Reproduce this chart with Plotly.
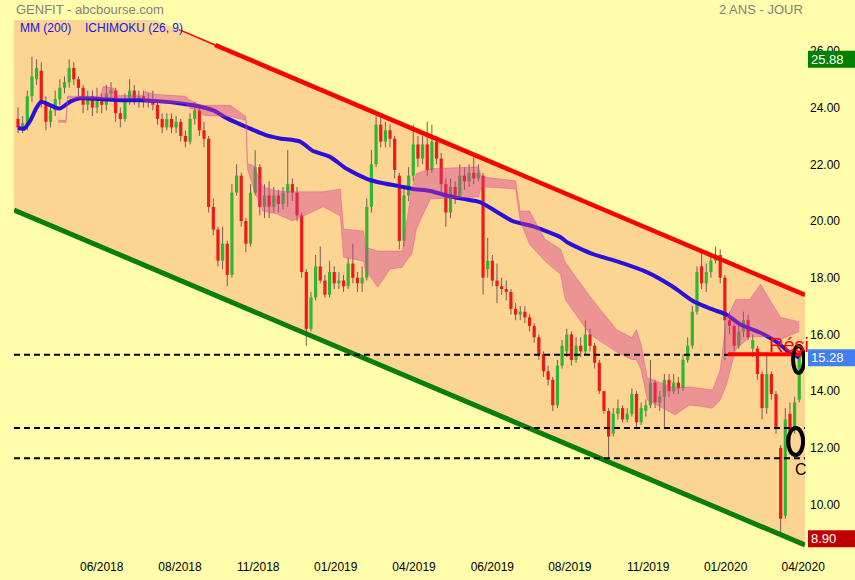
import plotly.graph_objects as go

# ---------------- data (trading-day index, price) ----------------
candle_idx = list(range(0, 507, 3))  # one candle every 3 trading days
opens = [23.6,23.3,23.4,24.4,25.0,25.3,24.2,23.5,23.9,24.3,24.7,24.9,25.4,25.0,24.7,24.1,24.4,24.0,24.3,24.1,
         24.5,24.6,23.8,23.6,24.3,24.6,24.3,24.4,24.2,24.3,24.1,23.6,23.3,23.6,23.3,23.5,23.0,22.8,23.6,23.9,
         23.2,22.9,20.5,19.7,18.6,19.2,18.1,21.0,21.6,20.0,19.2,21.0,21.9,20.5,20.9,20.5,20.9,20.6,21.0,21.3,
         21.0,20.2,18.2,16.2,17.3,18.4,17.9,17.4,18.2,17.8,17.9,17.7,18.5,18.0,17.8,18.0,20.5,22.0,23.4,22.8,
         23.2,22.9,21.6,19.3,20.9,21.6,22.7,22.2,22.7,21.8,22.8,22.2,21.3,20.3,21.2,20.9,21.6,21.4,21.7,21.5,
         21.6,18.3,18.6,17.9,17.7,17.6,17.5,16.9,16.7,16.8,16.6,16.3,15.9,15.3,14.7,14.4,13.5,14.9,15.4,16.0,
         15.1,15.6,15.4,16.0,15.6,15.0,14.0,13.3,12.5,13.2,13.4,13.0,13.2,13.9,12.9,13.3,13.5,14.3,13.6,13.8,
         14.4,14.0,14.3,14.1,15.1,15.6,16.8,18.4,17.8,18.2,18.6,18.8,18.0,16.5,16.3,15.6,16.1,16.5,15.5,15.5,
         14.6,13.4,14.6,13.9,12.0,9.6,13.2,12.7,13.7]
highs = [24.0,23.7,24.6,25.8,25.7,25.6,24.4,24.1,24.6,25.0,25.1,25.7,25.6,25.1,24.8,24.6,24.6,24.7,24.5,24.8,
         24.9,24.7,24.0,24.5,25.0,24.8,24.6,24.6,24.5,24.6,24.2,23.8,23.8,23.8,23.7,23.6,23.2,23.8,24.2,24.1,
         23.5,23.0,20.8,19.8,19.8,19.3,21.3,22.0,21.7,20.1,21.3,22.5,22.0,21.3,21.4,21.2,21.1,21.2,22.5,21.5,
         21.2,20.3,18.3,17.5,18.8,19.1,18.1,18.6,18.4,18.2,18.1,18.7,19.2,18.2,18.4,20.8,22.5,23.7,23.8,23.5,
         23.4,23.0,21.7,21.2,21.9,23.4,23.0,23.0,23.5,23.4,23.0,22.4,21.5,21.5,21.4,22.0,21.9,22.0,22.3,22.0,
         21.7,19.4,18.8,18.5,18.0,17.9,17.6,17.1,17.0,17.0,16.7,16.4,16.0,15.4,14.9,14.5,15.1,15.8,16.2,16.1,
         15.9,15.9,16.5,16.2,15.7,15.1,14.0,13.4,13.4,13.7,13.5,13.4,14.1,14.0,13.6,13.7,15.1,14.4,14.0,14.6,
         14.6,14.6,14.5,15.3,15.9,17.0,18.4,19.0,18.5,18.8,19.1,19.0,18.1,16.8,16.4,16.4,16.8,16.7,16.0,15.6,
         14.7,15.3,14.7,14.0,12.1,13.4,13.6,13.8,15.4]
lows = [23.1,23.1,23.2,24.2,24.8,24.0,23.2,23.3,23.7,24.1,24.5,24.7,24.8,24.4,23.8,23.9,23.7,23.8,23.8,23.9,
        24.2,23.5,23.3,23.5,24.1,24.1,24.0,24.0,24.0,23.9,23.4,23.1,23.2,23.1,23.1,22.8,22.6,22.7,23.4,23.0,
        22.6,20.3,19.5,18.4,18.3,17.7,18.0,20.9,19.8,18.9,19.1,20.9,20.2,20.1,20.1,20.3,20.3,20.4,20.5,20.7,
        20.0,18.0,15.6,16.1,17.2,17.8,17.3,17.3,17.6,17.6,17.5,17.6,17.8,17.5,17.5,17.9,20.3,21.9,22.6,22.6,
        22.6,21.5,19.0,19.1,20.7,21.4,21.9,22.0,21.6,21.7,22.0,21.0,19.8,20.1,20.6,20.8,21.1,21.2,21.3,21.4,
        17.4,18.0,17.7,17.1,17.4,17.2,16.7,16.5,16.5,16.4,16.1,15.7,15.1,14.5,14.2,13.3,13.4,14.8,15.2,14.9,
        15.0,15.2,15.3,15.4,14.8,13.9,13.2,11.65,12.4,13.0,12.9,12.9,13.1,12.7,12.8,13.1,13.4,13.4,13.3,12.7,
        13.8,13.9,13.9,14.0,15.0,15.5,16.7,17.6,17.5,18.0,18.5,17.8,15.1,16.0,15.4,15.5,15.9,15.8,15.2,14.4,
        13.0,13.2,13.7,12.5,8.9,9.5,11.8,12.5,13.6]
closes = [23.3,23.45,24.4,25.1,25.4,24.2,23.5,23.9,24.3,24.7,24.9,25.4,25.0,24.7,24.1,24.4,24.0,24.3,24.1,24.5,
          24.6,23.8,23.6,24.3,24.6,24.3,24.4,24.2,24.3,24.1,23.6,23.3,23.6,23.3,23.5,23.0,22.8,23.6,23.9,23.2,
          22.9,20.5,19.7,18.6,19.2,18.1,21.0,21.6,20.0,19.2,21.0,21.9,20.5,20.9,20.5,20.9,20.6,21.0,21.3,21.0,
          20.2,18.2,16.2,17.3,18.4,17.9,17.4,18.2,17.8,17.9,17.7,18.5,18.0,17.8,18.0,20.5,22.0,23.4,22.8,23.2,
          22.9,21.8,19.3,20.9,21.6,22.7,22.2,22.7,21.8,22.8,22.2,21.3,20.3,21.2,20.9,21.6,21.4,21.7,21.5,21.7,
          18.0,18.6,17.9,17.7,17.6,17.5,16.9,16.7,16.8,16.6,16.3,15.9,15.3,14.7,14.4,13.5,14.9,15.6,16.0,15.1,
          15.6,15.4,16.0,15.6,15.0,14.0,13.3,12.4,13.2,13.4,13.0,13.2,13.9,12.9,13.4,13.5,14.3,13.6,13.8,14.4,
          14.0,14.3,14.1,15.1,15.6,16.8,18.2,17.8,18.2,18.6,18.8,18.0,16.5,16.3,15.6,16.1,16.5,15.9,15.8,14.6,
          13.4,14.6,13.9,12.7,9.5,13.0,12.6,13.6,15.28]

# MM (200)
mm_idx = [0,4,8,12,15,21,27,34,40,53,66,79,92,104,117,126,135,148,161,169,182,190,201,212,225,234,245,
          255,266,277,287,298,309,319,332,337,350,354,371,388,406,422,436,448,457,466,479,490,498,504]
mm_val = [23.28,23.26,23.55,24.0,24.2,24.08,23.97,24.22,24.33,24.30,24.26,24.26,24.22,24.15,24.04,23.90,
          23.62,23.30,23.01,22.91,22.80,22.48,22.27,21.84,21.49,21.35,21.24,21.13,21.06,20.89,20.78,20.67,
          20.32,20.00,19.82,19.72,19.43,19.26,18.83,18.55,18.19,17.70,17.16,16.88,16.70,16.35,16.06,15.71,
          15.35,15.18]

# Ichimoku cloud (upper / lower span)
cloud_idx = [26,31,32,53,55,62,64,80,82,88,108,111,117,120,137,147,148,152,158,167,177,197,208,210,223,
             224,232,240,248,250,254,257,266,297,299,321,324,330,340,350,353,361,369,386,396,399,402,406,
             424,433,448,453,457,463,472,479,485,492,504]
cloud_top = [23.55,23.55,24.40,24.40,24.75,24.68,24.43,24.43,24.57,24.47,24.40,24.26,24.11,24.08,24.08,
             23.69,22.02,21.95,21.21,21.06,21.03,21.03,21.13,19.72,19.65,19.08,18.94,18.94,18.94,19.72,
             21.13,21.67,21.84,21.91,21.56,21.42,20.35,20.35,19.36,19.01,18.55,17.94,17.34,16.17,15.89,
             16.17,15.64,14.47,14.11,14.15,14.04,14.75,16.52,17.23,17.23,17.77,17.23,16.60,16.45]
cloud_bot = [23.48,23.48,24.33,24.33,24.33,24.33,24.33,24.33,24.22,24.18,24.15,23.97,23.90,23.72,23.69,
             23.55,21.84,21.13,20.35,20.25,20.00,20.50,20.18,18.72,18.58,18.30,17.66,18.30,18.37,18.55,
             18.83,19.72,20.78,20.85,21.21,21.13,20.00,19.18,18.58,18.12,17.23,16.63,16.00,15.39,15.11,
             15.11,14.75,13.69,13.16,13.51,13.40,13.69,14.22,15.46,15.92,15.92,15.92,15.82,16.10]

# trend channel (two anchor points each)
x_left, x_right = -2.58, 507.7
red_trend_x = [127.1, x_right]
red_trend_y = [26.21, 17.39]
red_thin_x = [104.0, 127.1]
red_thin_y = [26.75, 26.21]
red_ext_y = [29.21, 17.39]           # red line extended to the left edge (channel fill)
green_trend_y = [20.39, 8.57]

dashed_levels = [15.28, 12.70, 11.63]
resist_x = [458, x_right]
resist_y = [15.3, 15.3]

tick_idx = [54, 104.5, 155, 205, 255.5, 306, 356, 406.5, 456.5, 506.5]
tick_txt = ['06/2018', '08/2018', '11/2018', '01/2019', '04/2019', '06/2019',
            '08/2019', '11/2019', '01/2020', '04/2020']
y_ticks = [10, 12, 14, 16, 18, 20, 22, 24, 26]

tag_values = [25.88, 15.28, 8.90]
tag_colors = ['#008000', '#3f7ff2', '#c00000']

# ---------------- style ----------------
YELLOW = '#FFFEAA'
ORANGE = '#FCD592'
UP = '#2fb82f'
DOWN = '#f01818'
WICK = '#7a5a5a'
FONT = 'Liberation Sans, Arial'
PX_PER_UNIT = 28.35
TAG_SHIFT = [5, 3, 3]      # px, boxes sit slightly below their value

fig = go.Figure()

# channel fill
fig.add_trace(go.Scatter(x=[x_left, x_right], y=green_trend_y, mode='lines',
                         line=dict(width=0, color=ORANGE), hoverinfo='skip'))
fig.add_trace(go.Scatter(x=[x_left, x_right], y=red_ext_y, mode='lines', fill='tonexty',
                         fillcolor=ORANGE, line=dict(width=0, color=ORANGE), hoverinfo='skip'))

# wicks
wx, wy = [], []
for i, h, l in zip(candle_idx, highs, lows):
    wx += [i, i, None]
    wy += [l, h, None]
fig.add_trace(go.Scatter(x=wx, y=wy, mode='lines', line=dict(color=WICK, width=1), hoverinfo='skip'))

# bodies (thick vertical segments)
ux, uy, dx, dy = [], [], [], []
for i, o, c in zip(candle_idx, opens, closes):
    lo, hi = min(o, c), max(o, c)
    if hi - lo < 0.06:
        hi = lo + 0.06
    if c >= o:
        ux += [i, i, None]; uy += [lo, hi, None]
    else:
        dx += [i, i, None]; dy += [lo, hi, None]
fig.add_trace(go.Scatter(x=ux, y=uy, mode='lines', line=dict(color=UP, width=3.2), hoverinfo='skip'))
fig.add_trace(go.Scatter(x=dx, y=dy, mode='lines', line=dict(color=DOWN, width=3.2), hoverinfo='skip'))

# MM 200
fig.add_trace(go.Scatter(x=mm_idx, y=mm_val, mode='lines',
                         line=dict(color='#2a10d8', width=4, shape='spline', smoothing=0.7),
                         hoverinfo='skip'))

# Ichimoku cloud
CLOUD = 'rgba(215,60,150,0.42)'
fig.add_trace(go.Scatter(x=cloud_idx, y=cloud_bot, mode='lines',
                         line=dict(color='rgba(215,60,150,0.35)', width=1), hoverinfo='skip'))
fig.add_trace(go.Scatter(x=cloud_idx, y=cloud_top, mode='lines', fill='tonexty', fillcolor=CLOUD,
                         line=dict(color='rgba(215,60,150,0.35)', width=1), hoverinfo='skip'))

# trend lines
fig.add_trace(go.Scatter(x=[x_left, x_right], y=green_trend_y, mode='lines',
                         line=dict(color='#0a7d0a', width=5), hoverinfo='skip'))
fig.add_trace(go.Scatter(x=red_thin_x, y=red_thin_y, mode='lines',
                         line=dict(color='#ff0000', width=1.5), hoverinfo='skip'))
fig.add_trace(go.Scatter(x=red_trend_x, y=red_trend_y, mode='lines',
                         line=dict(color='#ff0000', width=4.5), hoverinfo='skip'))

# dashed support / resistance levels
for lv in dashed_levels:
    fig.add_trace(go.Scatter(x=[x_left, x_right], y=[lv, lv], mode='lines',
                             line=dict(color='black', width=2, dash='6px,4px'), hoverinfo='skip'))
fig.add_trace(go.Scatter(x=resist_x, y=resist_y, mode='lines',
                         line=dict(color='#ff0000', width=4), hoverinfo='skip'))

# ellipses
fig.add_shape(type='circle', xref='x', yref='y', x0=500, x1=507.1, y0=14.64, y1=15.59,
              line=dict(color='black', width=4))
fig.add_shape(type='circle', xref='x', yref='y', x0=496.8, x1=506.5, y0=11.75, y1=12.70,
              line=dict(color='black', width=4))

ann = []
ann.append(dict(text='Rési', x=483.2, y=15.63, xref='x', yref='y', xanchor='left', yanchor='middle',
                showarrow=False, font=dict(size=20, color='#ff0000', family=FONT)))
ann.append(dict(text='C', x=500, y=11.25, xref='x', yref='y', xanchor='left', yanchor='middle',
                showarrow=False, font=dict(size=16, color='black', family=FONT)))
ann.append(dict(text='GENFIT - abcbourse.com', x=0, y=1, xref='paper', yref='paper', xanchor='left',
                yanchor='middle', yshift=11, showarrow=False,
                font=dict(size=13, color='#808080', family=FONT)))
ann.append(dict(text='2 ANS - JOUR', x=1, y=1, xref='paper', yref='paper', xanchor='right',
                yanchor='middle', yshift=11, showarrow=False,
                font=dict(size=13, color='#808080', family=FONT)))
ann.append(dict(text='MM (200)', x=0.005, y=1, xref='paper', yref='paper', xanchor='left',
                yanchor='middle', yshift=-8, showarrow=False,
                font=dict(size=12, color='#1414e6', family=FONT)))
ann.append(dict(text='ICHIMOKU (26, 9)', x=0.087, y=1, xref='paper', yref='paper', xanchor='left',
                yanchor='middle', yshift=-8, showarrow=False,
                font=dict(size=12, color='#1414e6', family=FONT)))

plot_w = 855 - 14 - 50
for val, col, sh in zip(tag_values, tag_colors, TAG_SHIFT):
    c = val - sh / PX_PER_UNIT
    half = 8.5 / PX_PER_UNIT
    fig.add_shape(type='rect', xref='paper', yref='y', x0=1 + 3 / plot_w, x1=1 + 52 / plot_w,
                  y0=c - half, y1=c + half, fillcolor=col, line=dict(width=0), layer='above')
    ann.append(dict(text='%.2f' % val, x=1, y=c, xref='paper', yref='y', xanchor='left',
                    yanchor='middle', xshift=4, showarrow=False,
                    font=dict(size=13, color='white', family=FONT)))

fig.update_layout(
    width=855, height=580,
    margin=dict(l=14, r=50, t=20, b=28, autoexpand=False),
    paper_bgcolor=YELLOW, plot_bgcolor=YELLOW,
    showlegend=False,
    annotations=ann,
    font=dict(family=FONT, size=12, color='black'),
    xaxis=dict(range=[x_left, x_right], tickvals=tick_idx, ticktext=tick_txt, showgrid=False,
               zeroline=False, showline=False, ticks='', tickfont=dict(size=12, color='black'),
               ticklabelstandoff=6, automargin=False, fixedrange=True),
    yaxis=dict(side='right', range=[8.325, 27.09], tickvals=y_ticks,
               ticktext=['%.2f' % v for v in y_ticks], showgrid=False, zeroline=False,
               showline=False, ticks='', tickfont=dict(size=12, color='black'),
               ticklabelstandoff=4, automargin=False, fixedrange=True),
)

fig.write_html('out.html', config={'displayModeBar': False},
               post_script="document.body.style.margin='0';")
